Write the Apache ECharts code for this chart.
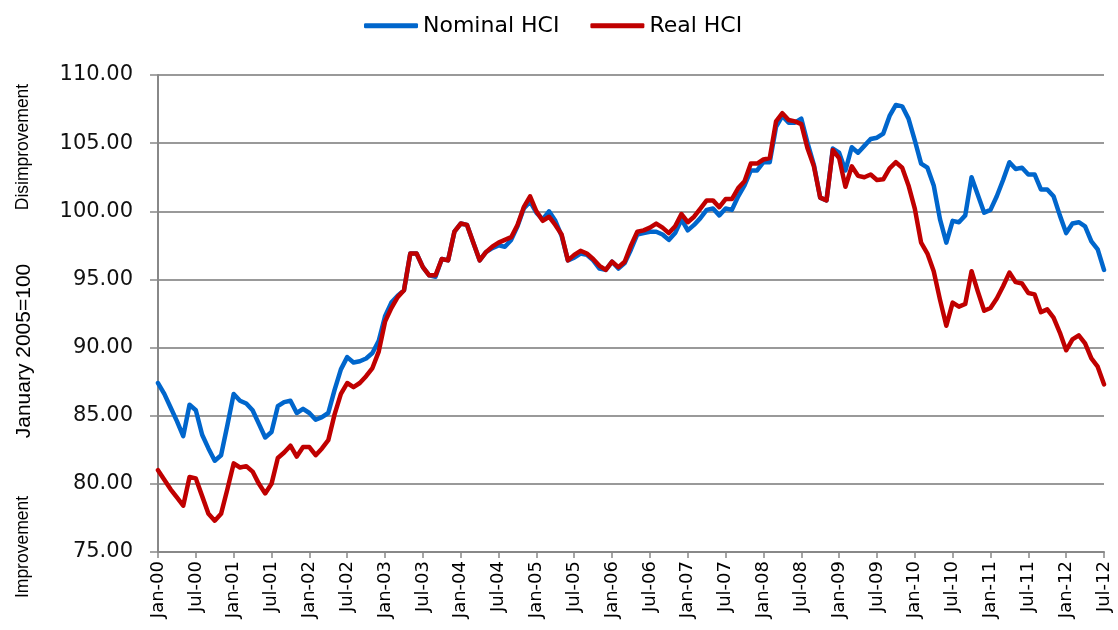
<!doctype html>
<html>
<head>
    <title>HCI</title>
    <script src="https://cdn.jsdelivr.net/npm/echarts@6/dist/echarts.min.js"></script>
</head>
<style>
    html, body { margin: 0; padding: 0; background: #fff; }
    #chart { width: 1118px; height: 630px; }
</style>
<body>
<div id="chart"></div>
<script>
  // monthly labels Jan-00 .. Jul-12
  var monthNames = ['Jan', 'Feb', 'Mar', 'Apr', 'May', 'Jun', 'Jul', 'Aug', 'Sep', 'Oct', 'Nov', 'Dec'];
  var years = ['00', '01', '02', '03', '04', '05', '06', '07', '08', '09', '10', '11', '12'];
  var months = [];
  years.forEach(function (y) {
    monthNames.forEach(function (m) { months.push(m + '-' + y); });
  });
  months = months.slice(0, 151);

  var nominalHCI = [
    87.4, 86.6, 85.6, 84.6, 83.5, 85.8, 85.4, 83.6, 82.6, 81.7, 82.1, 84.3,
    86.6, 86.1, 85.9, 85.4, 84.4, 83.4, 83.8, 85.7, 86.0, 86.1, 85.2, 85.5,
    85.2, 84.7, 84.9, 85.2, 86.9, 88.4, 89.3, 88.9, 89.0, 89.2, 89.6, 90.5,
    92.3, 93.3, 93.8, 94.2, 96.9, 96.9, 95.9, 95.3, 95.2, 96.5, 96.4, 98.5,
    99.1, 99.0, 97.7, 96.4, 97.0, 97.3, 97.5, 97.4, 97.9, 98.9, 100.2, 100.7,
    99.9, 99.4, 100.0, 99.3, 98.2, 96.4, 96.6, 96.9, 96.8, 96.4, 95.8, 95.7,
    96.3, 95.8, 96.2, 97.2, 98.3, 98.4, 98.5, 98.5, 98.3, 97.9, 98.4, 99.4,
    98.6, 99.0, 99.5, 100.1, 100.2, 99.7, 100.2, 100.1, 101.1, 101.9, 103.0, 103.0,
    103.6, 103.6, 106.2, 107.0, 106.5, 106.5, 106.8, 105.0, 103.4, 101.0, 100.8, 104.6,
    104.3, 103.0, 104.7, 104.3, 104.8, 105.3, 105.4, 105.7, 107.0, 107.8, 107.7, 106.8,
    105.2, 103.5, 103.2, 101.9, 99.4, 97.7, 99.3, 99.2, 99.7, 102.5, 101.2, 99.9,
    100.1, 101.1, 102.3, 103.6, 103.1, 103.2, 102.7, 102.7, 101.6, 101.6, 101.1, 99.7,
    98.4, 99.1, 99.2, 98.9, 97.8, 97.2, 95.7
  ];

  var realHCI = [
    81.0, 80.3, 79.6, 79.0, 78.4, 80.5, 80.4, 79.1, 77.8, 77.3, 77.8, 79.6,
    81.5, 81.2, 81.3, 80.9, 80.0, 79.3, 80.0, 81.9, 82.3, 82.8, 82.0, 82.7,
    82.7, 82.1, 82.6, 83.2, 85.1, 86.6, 87.4, 87.1, 87.4, 87.9, 88.5, 89.7,
    91.9, 92.9, 93.7, 94.2, 96.9, 96.9, 95.9, 95.3, 95.3, 96.5, 96.4, 98.5,
    99.1, 99.0, 97.7, 96.4, 97.0, 97.4, 97.7, 97.9, 98.1, 99.0, 100.3, 101.1,
    100.0, 99.3, 99.6, 99.0, 98.3, 96.4, 96.8, 97.1, 96.9, 96.5, 96.0, 95.7,
    96.3, 95.9, 96.3, 97.5, 98.5, 98.6, 98.8, 99.1, 98.8, 98.4, 98.9, 99.8,
    99.2, 99.6, 100.2, 100.8, 100.8, 100.3, 100.9, 100.9, 101.7, 102.2, 103.5, 103.5,
    103.8, 103.9, 106.6, 107.2, 106.7, 106.6, 106.4, 104.6, 103.3, 101.0, 100.8, 104.5,
    103.9, 101.8, 103.3, 102.6, 102.5, 102.7, 102.3, 102.35, 103.15, 103.6, 103.2, 101.9,
    100.2, 97.7, 96.9, 95.6, 93.5, 91.6, 93.3, 93.0, 93.2, 95.6, 94.1, 92.7,
    92.9, 93.6, 94.5, 95.5, 94.8, 94.7, 94.0, 93.9, 92.6, 92.8, 92.2, 91.1,
    89.8, 90.6, 90.9, 90.3, 89.2, 88.6, 87.3
  ];

  var yTicks = { min: 75, max: 110, step: 5 };

  var myChart = echarts.init(document.getElementById('chart'));
  var sideFont = '"Liberation Sans", Arial, sans-serif';
  var mainFont = '"DejaVu Sans", Verdana, sans-serif';

  // every sixth month (Jan / Jul)
  function halfYear(idx) { return idx % 6 === 0; }

  myChart.setOption({
    animation: false,
    backgroundColor: '#fff',
    legend: {
      left: 359,
      top: 4,
      padding: [0, 5],
      itemWidth: 54,
      itemHeight: 5,
      itemGap: 31,
      icon: 'roundRect',
      textStyle: { fontFamily: mainFont, fontSize: 22, color: '#000' },
      data: ['Nominal HCI', 'Real HCI']
    },
    grid: { left: 158, right: 14, top: 75, bottom: 78, outerBoundsMode: 'none' },
    xAxis: {
      type: 'category',
      data: months,
      boundaryGap: false,
      axisLine: { lineStyle: { color: '#888', width: 2 } },
      axisTick: { interval: halfYear, length: 6, lineStyle: { color: '#888', width: 1.5 } },
      axisLabel: {
        interval: halfYear,
        rotate: 90,
        margin: 9,
        fontFamily: mainFont,
        fontSize: 18,
        color: '#000'
      },
      splitLine: { show: false }
    },
    yAxis: {
      type: 'value',
      min: yTicks.min,
      max: yTicks.max,
      interval: yTicks.step,
      axisLine: { show: true, lineStyle: { color: '#888', width: 2 } },
      axisTick: { show: true, length: 8, lineStyle: { color: '#888', width: 1.5 } },
      axisLabel: {
        margin: 25,
        fontFamily: mainFont,
        fontSize: 21,
        color: '#111',
        formatter: function (v) { return v.toFixed(2); }
      },
      splitLine: { lineStyle: { color: '#999', width: 2 } }
    },
    graphic: [
      {
        type: 'text', x: 24, y: 351, rotation: Math.PI / 2,
        style: { text: 'January 2005=100', font: '21px ' + sideFont, fill: '#000', align: 'center', verticalAlign: 'middle' }
      },
      {
        type: 'text', x: 23, y: 147, rotation: Math.PI / 2,
        style: { text: 'Disimprovement', font: '17.5px ' + sideFont, fill: '#000', align: 'center', verticalAlign: 'middle' }
      },
      {
        type: 'text', x: 23, y: 547, rotation: Math.PI / 2,
        style: { text: 'Improvement', font: '17.5px ' + sideFont, fill: '#000', align: 'center', verticalAlign: 'middle' }
      }
    ],
    series: [
      {
        name: 'Nominal HCI',
        type: 'line',
        data: nominalHCI,
        showSymbol: false,
        symbol: 'none',
        color: '#0066cc',
        lineStyle: { width: 4.5, color: '#0066cc', join: 'round', cap: 'round' }
      },
      {
        name: 'Real HCI',
        type: 'line',
        data: realHCI,
        showSymbol: false,
        symbol: 'none',
        color: '#c00000',
        lineStyle: { width: 4.5, color: '#c00000', join: 'round', cap: 'round' }
      }
    ]
  });
</script>
</body>
</html>
